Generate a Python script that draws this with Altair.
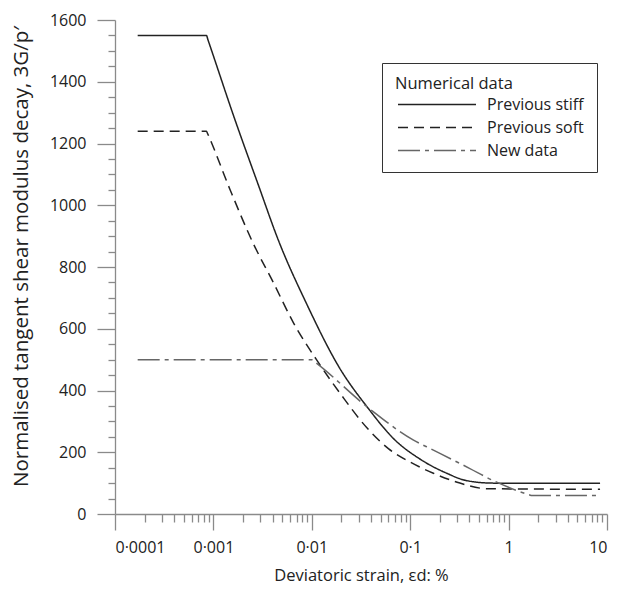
import altair as alt
import pandas as pd

series_names = ["Previous stiff", "Previous soft", "New data"]

stiff_x = [0.00017, 0.00085, 0.00088, 0.00166, 0.00286, 0.00457, 0.00888, 0.0194, 0.0375, 0.0673, 0.13, 0.235, 0.375, 0.7, 8.5]
stiff_y = [1550, 1550, 1536, 1276, 1066, 887, 680, 470, 342, 245, 175, 132, 108, 100, 100]

soft_x = [0.00017, 0.00085, 0.00087, 0.00147, 0.00255, 0.00406, 0.00649, 0.0112, 0.02, 0.0361, 0.06, 0.1, 0.172, 0.3, 0.6, 8.5]
soft_y = [1240, 1240, 1233, 1052, 875, 750, 620, 499, 385, 280, 212, 168, 132, 103, 82, 80]

new_x = [0.00017, 0.01, 0.0102, 0.0375, 0.107, 0.172, 0.4, 0.7, 1.66, 1.7, 8.5]
new_y = [500, 500, 498, 344, 240, 207, 148, 108, 61, 60, 60]

x_major_values = [0.0001, 0.001, 0.01, 0.1, 1, 10]
x_major_labels = ["0·0001", "0·001", "0·01", "0·1", "1", "10"]
y_major_step = 200
y_minor_step = 50
y_max = 1600

rows = []
for name, xs, ys in [(series_names[0], stiff_x, stiff_y),
                     (series_names[1], soft_x, soft_y),
                     (series_names[2], new_x, new_y)]:
    for xv, yv in zip(xs, ys):
        rows.append({"strain": xv, "g": yv, "series": name})
df = pd.DataFrame(rows)

x_minor_values = [m * v for v in x_major_values[:-1] for m in range(2, 10)]
x_tick_values = x_major_values + x_minor_values

x_label_expr = ""
for v, lab in zip(x_major_values, x_major_labels):
    x_label_expr += f"abs(datum.value / {v} - 1) < 1e-6 ? '{lab}' : "
x_label_expr += "''"
x_major_test = " || ".join(f"abs(datum.value / {v} - 1) < 1e-6" for v in x_major_values)

y_tick_values = list(range(0, y_max + 1, y_minor_step))

axis_color = "#8a8a8a"
text_color = "#222222"

legend = alt.Legend(
    title="Numerical data",
    orient="none",
    legendX=267,
    legendY=43,
    symbolType="M-0.75,0H9",
    symbolSize=256,
    strokeColor="#333333",
    padding=13,
    labelOffset=74,
    labelExpr="datum.label + '\u2002\u2002'",
    rowPadding=6,
    titlePadding=3,
    titleFontWeight="normal",
    titleFontSize=16.5,
    labelFontSize=16,
    titleColor=text_color,
    labelColor=text_color,
    titleFont="Open Sans",
    labelFont="Open Sans",
)

chart = alt.Chart(df).mark_line(interpolate="monotone").encode(
    x=alt.X(
        "strain:Q",
        scale=alt.Scale(type="log", domain=[0.0001, 10]),
        axis=alt.Axis(
            values=x_tick_values,
            labelExpr=x_label_expr,
            tickSize={"condition": {"test": x_major_test, "value": 16}, "value": 8},
            title="Deviatoric  strain, εd: %",
            grid=False,
            labelPadding=9,
            titlePadding=12,
            titleFontSize=16.5,
        ),
    ),
    y=alt.Y(
        "g:Q",
        scale=alt.Scale(domain=[0, y_max], nice=False),
        axis=alt.Axis(
            values=y_tick_values,
            labelExpr=f"datum.value % {y_major_step} == 0 ? datum.label : ''",
            tickSize={"condition": {"test": f"datum.value % {y_major_step} == 0", "value": 18}, "value": 7},
            title="Normalised tangent shear modulus decay, 3G/p′",
            grid=False,
            labelPadding=11,
            titleX=-84,
            titleY=236,
            titleFontSize=20.5,
            format="d",
        ),
    ),
    color=alt.Color("series:N", scale=alt.Scale(domain=series_names, range=["#222222", "#222222", "#666666"]), legend=legend),
    strokeDash=alt.StrokeDash("series:N", scale=alt.Scale(domain=series_names, range=[[1, 0], [10, 6], [22, 5, 4, 5]]), legend=legend),
    strokeWidth=alt.StrokeWidth("series:N", scale=alt.Scale(domain=series_names, range=[1.5, 1.5, 2.2]), legend=legend),
).properties(
    width=492,
    height=494,
    autosize=alt.AutoSizeParams(type="none"),
    padding={"left": 115, "top": 20, "right": 14, "bottom": 78},
).configure_view(
    stroke=None
).configure_axis(
    domainColor=axis_color,
    tickColor=axis_color,
    domainWidth=1.3,
    tickWidth=1.3,
    labelFont="Open Sans",
    titleFont="Open Sans",
    labelFontSize=16,
    titleFontSize=16,
    titleFontWeight="normal",
    labelColor=text_color,
    titleColor=text_color,
)

chart.save("out.html", embed_options={"renderer": "svg", "actions": False})
